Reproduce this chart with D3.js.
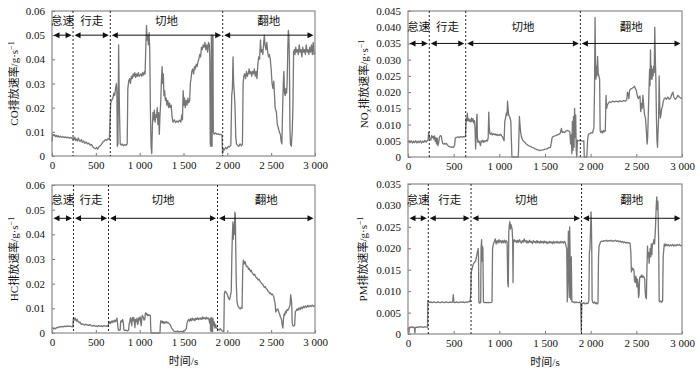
<!DOCTYPE html>
<html><head><meta charset="utf-8">
<script src="https://cdn.jsdelivr.net/npm/d3@7/dist/d3.min.js"></script>
<style>body{margin:0;background:#fff}svg{display:block}</style>
</head><body>
<script>
// ---------- data ----------
const phaseNames = ["怠速", "行走", "切地", "翻地"];
const xTicks = [0, 500, 1000, 1500, 2000, 2500, 3000];
const coYTicks = [0, 0.01, 0.02, 0.03, 0.04, 0.05, 0.06];
const noxYTicks = [0, 0.005, 0.01, 0.015, 0.02, 0.025, 0.03, 0.035, 0.04, 0.045];
const hcYTicks = [0, 0.01, 0.02, 0.03, 0.04, 0.05, 0.06];
const pmYTicks = [0, 0.005, 0.01, 0.015, 0.02, 0.025, 0.03, 0.035];
const coBounds = [240, 665, 1947];
const noxBounds = [233, 632, 1887];
const hcBounds = [245, 645, 1888];
const pmBounds = [222, 690, 1900];

const coData = [[0,0.006],[8,0.009],[20,0.0085],[30,0.0088],[40,0.008],[50,0.0085],[60,0.0079],[70,0.0084],[80,0.0078],[95,0.0082],[110,0.0077],[125,0.008],[140,0.0076],[155,0.0079],[170,0.0075],[185,0.0078],[200,0.0074],[215,0.0076],[230,0.0072],[243,0.0075],[250,0.0068],[260,0.0078],[270,0.0064],[280,0.007],[290,0.0062],[300,0.0075],[310,0.0066],[320,0.006],[335,0.0068],[345,0.0057],[360,0.0062],[375,0.0052],[390,0.0058],[405,0.005],[420,0.0053],[435,0.0045],[450,0.0048],[465,0.0038],[480,0.0033],[495,0.003],[510,0.0035],[520,0.0028],[535,0.0038],[550,0.0042],[565,0.0048],[580,0.0058],[595,0.0062],[610,0.0068],[625,0.0065],[640,0.0072],[655,0.0068],[662,0.015],[670,0.022],[680,0.023],[695,0.024],[705,0.026],[715,0.025],[725,0.028],[735,0.03],[740,0.027],[745,0.004],[752,0.005],[760,0.046],[765,0.03],[770,0.018],[778,0.005],[790,0.0045],[800,0.005],[815,0.0042],[830,0.0048],[845,0.0044],[858,0.005],[865,0.028],[875,0.031],[885,0.032],[895,0.03],[905,0.033],[915,0.032],[925,0.034],[935,0.033],[945,0.0345],[955,0.0325],[965,0.034],[975,0.033],[985,0.0345],[995,0.033],[1005,0.0335],[1015,0.034],[1025,0.033],[1035,0.0345],[1045,0.0335],[1055,0.035],[1062,0.034],[1070,0.045],[1078,0.054],[1085,0.048],[1092,0.05],[1100,0.046],[1108,0.051],[1115,0.044],[1122,0.02],[1130,0.004],[1138,0.001],[1145,0.012],[1152,0.018],[1160,0.015],[1168,0.019],[1176,0.014],[1184,0.017],[1192,0.016],[1200,0.02],[1208,0.013],[1216,0.018],[1224,0.009],[1232,0.017],[1240,0.022],[1248,0.031],[1256,0.037],[1263,0.03],[1270,0.034],[1277,0.025],[1285,0.027],[1293,0.023],[1302,0.024],[1310,0.021],[1320,0.023],[1330,0.02],[1340,0.022],[1350,0.02],[1360,0.021],[1370,0.016],[1380,0.014],[1395,0.015],[1410,0.0138],[1425,0.0145],[1440,0.014],[1455,0.0148],[1470,0.014],[1480,0.017],[1488,0.015],[1496,0.027],[1504,0.021],[1512,0.024],[1520,0.02],[1530,0.023],[1540,0.021],[1550,0.024],[1560,0.022],[1570,0.023],[1578,0.03],[1586,0.032],[1595,0.035],[1605,0.036],[1615,0.034],[1625,0.037],[1635,0.036],[1645,0.038],[1655,0.037],[1665,0.039],[1675,0.04],[1685,0.042],[1695,0.041],[1705,0.045],[1715,0.044],[1725,0.046],[1735,0.045],[1745,0.047],[1755,0.044],[1765,0.046],[1775,0.043],[1785,0.047],[1795,0.046],[1800,0.04],[1805,0.005],[1812,0.004],[1818,0.05],[1822,0.02],[1826,0.004],[1832,0.05],[1836,0.05],[1840,0.01],[1850,0.009],[1865,0.0095],[1880,0.009],[1895,0.0092],[1910,0.0088],[1925,0.009],[1940,0.0085],[1945,0.001],[1955,0.003],[1965,0.0025],[1980,0.0035],[1995,0.003],[2010,0.004],[2025,0.0038],[2040,0.0045],[2050,0.025],[2058,0.028],[2065,0.041],[2072,0.03],[2080,0.026],[2088,0.02],[2096,0.008],[2104,0.005],[2115,0.0045],[2130,0.004],[2145,0.005],[2160,0.0042],[2172,0.0048],[2180,0.03],[2188,0.033],[2198,0.034],[2208,0.032],[2218,0.035],[2228,0.033],[2238,0.034],[2248,0.036],[2258,0.034],[2268,0.035],[2278,0.033],[2288,0.035],[2298,0.034],[2308,0.036],[2318,0.033],[2328,0.035],[2338,0.032],[2348,0.038],[2358,0.041],[2368,0.04],[2378,0.048],[2386,0.043],[2395,0.044],[2405,0.042],[2415,0.047],[2422,0.05],[2430,0.046],[2440,0.044],[2450,0.047],[2460,0.043],[2470,0.041],[2480,0.042],[2490,0.04],[2500,0.036],[2510,0.03],[2520,0.028],[2530,0.031],[2545,0.02],[2560,0.018],[2570,0.013],[2580,0.012],[2592,0.01],[2604,0.009],[2614,0.006],[2622,0.005],[2630,0.018],[2638,0.03],[2645,0.035],[2652,0.026],[2660,0.025],[2668,0.028],[2676,0.026],[2682,0.03],[2690,0.045],[2696,0.052],[2702,0.05],[2708,0.04],[2714,0.012],[2720,0.005],[2730,0.004],[2740,0.01],[2748,0.02],[2756,0.043],[2764,0.044],[2772,0.042],[2780,0.045],[2790,0.043],[2800,0.044],[2810,0.042],[2820,0.046],[2830,0.043],[2840,0.044],[2850,0.041],[2860,0.045],[2870,0.043],[2880,0.044],[2890,0.042],[2900,0.046],[2910,0.043],[2920,0.044],[2930,0.042],[2940,0.045],[2950,0.043],[2960,0.046],[2970,0.042],[2980,0.047],[2990,0.042],[3000,0.043]];

const noxData = [[0,0.0045],[10,0.005],[22,0.0044],[35,0.005],[48,0.0043],[60,0.0049],[72,0.0044],[85,0.005],[98,0.0043],[110,0.0049],[122,0.0044],[135,0.005],[148,0.0043],[160,0.0049],[172,0.0045],[185,0.0051],[198,0.0046],[210,0.005],[220,0.0052],[226,0.0076],[232,0.006],[240,0.0058],[250,0.0052],[258,0.0066],[266,0.006],[274,0.0064],[282,0.0055],[290,0.0065],[298,0.0048],[305,0.006],[312,0.004],[320,0.0058],[328,0.0035],[336,0.0045],[345,0.0062],[355,0.0066],[365,0.0064],[372,0.0052],[380,0.0042],[390,0.004],[400,0.0041],[410,0.004],[420,0.0042],[430,0.0038],[440,0.0034],[455,0.0032],[470,0.003],[485,0.0031],[500,0.003],[510,0.0036],[518,0.0058],[530,0.006],[545,0.0062],[560,0.006],[575,0.0063],[590,0.0061],[605,0.0063],[620,0.0062],[630,0.0064],[636,0.012],[642,0.011],[650,0.0135],[656,0.0112],[664,0.0118],[672,0.011],[680,0.0115],[688,0.0108],[696,0.012],[704,0.011],[712,0.0118],[720,0.0105],[728,0.0112],[734,0.009],[740,0.0025],[746,0.006],[752,0.012],[756,0.0132],[760,0.006],[766,0.0045],[776,0.005],[786,0.0042],[794,0.0035],[800,0.005],[810,0.0046],[820,0.0052],[830,0.0045],[840,0.005],[850,0.0048],[860,0.0052],[870,0.0049],[878,0.006],[884,0.0138],[890,0.009],[896,0.0072],[905,0.007],[915,0.0074],[925,0.0068],[935,0.0072],[945,0.0069],[955,0.0071],[965,0.0067],[975,0.007],[985,0.0066],[995,0.0069],[1005,0.0067],[1015,0.007],[1025,0.0065],[1035,0.0062],[1045,0.0055],[1052,0.005],[1060,0.011],[1068,0.012],[1076,0.0135],[1084,0.0128],[1090,0.0172],[1096,0.015],[1102,0.013],[1110,0.0125],[1118,0.012],[1126,0.011],[1132,0.005],[1138,0],[1150,0],[1170,0],[1190,0],[1208,0],[1214,0.006],[1220,0.0125],[1226,0.01],[1234,0.0075],[1244,0.006],[1256,0.0052],[1268,0.0048],[1280,0.0045],[1295,0.004],[1310,0.0037],[1325,0.0034],[1340,0.0033],[1355,0.003],[1370,0.0029],[1385,0.0026],[1400,0.0024],[1420,0.0022],[1440,0.002],[1460,0.0021],[1480,0.0022],[1500,0.0024],[1520,0.0025],[1540,0.0028],[1560,0.003],[1570,0.0045],[1578,0.006],[1590,0.0063],[1605,0.0065],[1620,0.0066],[1635,0.0068],[1650,0.007],[1665,0.0072],[1680,0.0088],[1688,0.0076],[1700,0.0078],[1715,0.0075],[1730,0.008],[1745,0.0082],[1760,0.008],[1772,0.0078],[1780,0.004],[1788,0.0068],[1794,0.001],[1800,0.011],[1806,0.002],[1812,0.0125],[1818,0.003],[1824,0.015],[1830,0.006],[1836,0.013],[1842,0.002],[1848,0],[1855,0.0052],[1870,0.005],[1885,0.0051],[1900,0.005],[1915,0.0049],[1925,0.005],[1930,0],[1945,0],[1958,0],[1966,0.005],[1975,0.007],[1990,0.0072],[2005,0.0075],[2020,0.0074],[2035,0.009],[2042,0.02],[2048,0.043],[2053,0.03],[2058,0.024],[2064,0.028],[2070,0.025],[2076,0.031],[2082,0.026],[2090,0.025],[2098,0.024],[2104,0.008],[2112,0.0075],[2122,0.008],[2132,0.0074],[2142,0.0082],[2152,0.0078],[2160,0.008],[2168,0.019],[2175,0.015],[2182,0.016],[2192,0.0165],[2205,0.017],[2220,0.0168],[2240,0.0172],[2260,0.017],[2280,0.0172],[2300,0.017],[2320,0.0173],[2340,0.0171],[2360,0.0174],[2380,0.0172],[2395,0.0176],[2402,0.02],[2410,0.0195],[2418,0.018],[2426,0.0205],[2440,0.021],[2455,0.0212],[2470,0.0215],[2480,0.0218],[2490,0.021],[2500,0.0205],[2510,0.019],[2520,0.018],[2530,0.0185],[2540,0.0188],[2548,0.014],[2556,0.0165],[2564,0.015],[2572,0.019],[2580,0.016],[2590,0.013],[2600,0.012],[2610,0.008],[2618,0.004],[2624,0.006],[2630,0.012],[2638,0.02],[2645,0.027],[2650,0.022],[2655,0.033],[2660,0.024],[2666,0.028],[2672,0.024],[2678,0.027],[2684,0.025],[2690,0.028],[2696,0.026],[2702,0.04],[2708,0.03],[2714,0.024],[2720,0.012],[2726,0.005],[2732,0.003],[2738,0.008],[2744,0.012],[2750,0.025],[2756,0.016],[2762,0.012],[2770,0.013],[2778,0.015],[2786,0.0155],[2794,0.017],[2805,0.018],[2818,0.0182],[2830,0.0178],[2845,0.0185],[2860,0.0178],[2875,0.0182],[2890,0.0195],[2900,0.02],[2910,0.0185],[2925,0.0178],[2940,0.0182],[2955,0.019],[2970,0.0185],[2985,0.0182],[3000,0.018]];

const hcData = [[0,0.0018],[10,0.0022],[20,0.0016],[30,0.002],[40,0.0017],[55,0.0023],[70,0.0022],[85,0.0026],[100,0.0024],[115,0.0027],[130,0.0025],[145,0.0028],[160,0.0026],[175,0.0029],[190,0.0027],[205,0.0028],[220,0.0026],[238,0.0025],[243,0.0058],[250,0.0062],[258,0.0052],[268,0.006],[278,0.0048],[288,0.0055],[298,0.0046],[308,0.0042],[318,0.0045],[328,0.0038],[340,0.0035],[355,0.0037],[370,0.0032],[385,0.0035],[400,0.0033],[415,0.0031],[430,0.0034],[445,0.003],[460,0.0028],[475,0.0031],[490,0.0027],[505,0.0029],[520,0.0026],[535,0.003],[550,0.0027],[565,0.0029],[580,0.0026],[595,0.003],[610,0.0028],[625,0.0029],[640,0.0027],[646,0.004],[655,0.0045],[665,0.0038],[675,0.0048],[685,0.0042],[695,0.005],[705,0.0044],[715,0.0052],[725,0.0046],[735,0.0055],[741,0.006],[748,0.004],[754,0.0018],[762,0.001],[770,0.0012],[778,0.0012],[784,0.0048],[790,0.005],[798,0.0045],[806,0.0055],[814,0.004],[820,0.0012],[830,0.001],[845,0.0012],[860,0.0008],[874,0.0012],[880,0.0038],[886,0.0042],[892,0.0058],[898,0.0062],[904,0.0045],[910,0.003],[916,0.0058],[922,0.0063],[928,0.005],[934,0.0062],[940,0.0042],[946,0.0022],[952,0.0055],[958,0.0052],[964,0.0045],[970,0.006],[976,0.0035],[982,0.0038],[988,0.006],[994,0.0062],[1000,0.0052],[1006,0.0065],[1012,0.0042],[1018,0.003],[1024,0.0058],[1030,0.0072],[1036,0.0068],[1042,0.0062],[1050,0.0052],[1058,0.0055],[1064,0.0078],[1070,0.0082],[1076,0.0075],[1082,0.0078],[1090,0.007],[1098,0.0074],[1106,0.0071],[1114,0.0073],[1122,0.007],[1126,0.002],[1130,0],[1160,0],[1190,0],[1220,0],[1232,0],[1236,0.0035],[1242,0.005],[1250,0.0042],[1258,0.0048],[1266,0.004],[1274,0.0046],[1282,0.0038],[1290,0.0045],[1298,0.0042],[1306,0.0046],[1314,0.004],[1322,0.0043],[1332,0.004],[1345,0.0035],[1355,0.0028],[1365,0.002],[1375,0.0015],[1390,0.0008],[1410,0.0005],[1430,0.0008],[1450,0.0004],[1470,0.0007],[1490,0.0005],[1505,0.001],[1520,0.0012],[1532,0.0018],[1540,0.004],[1550,0.005],[1560,0.0055],[1570,0.0048],[1580,0.0058],[1590,0.005],[1600,0.006],[1610,0.0052],[1620,0.0058],[1630,0.005],[1640,0.006],[1650,0.0055],[1660,0.0062],[1670,0.0054],[1680,0.006],[1690,0.0056],[1700,0.0062],[1710,0.0055],[1720,0.0065],[1730,0.0058],[1740,0.0062],[1750,0.0056],[1760,0.0064],[1770,0.0057],[1780,0.0062],[1790,0.0055],[1798,0.004],[1804,0.006],[1808,0.001],[1812,0.006],[1816,0.0005],[1820,0.0062],[1824,0.001],[1828,0.0058],[1832,0.0005],[1836,0.006],[1842,0.003],[1850,0.0045],[1858,0.002],[1866,0.0035],[1874,0.0022],[1884,0.0018],[1894,0.0015],[1905,0.0012],[1920,0.0018],[1935,0.001],[1950,0.0008],[1960,0.0005],[1966,0.016],[1975,0.017],[1985,0.0165],[1995,0.016],[2005,0.015],[2015,0.014],[2025,0.0135],[2035,0.015],[2045,0.017],[2052,0.032],[2058,0.04],[2064,0.045],[2068,0.038],[2074,0.044],[2080,0.04],[2086,0.049],[2091,0.048],[2096,0.035],[2102,0.02],[2110,0.013],[2120,0.011],[2130,0.0105],[2140,0.01],[2150,0.0098],[2160,0.0105],[2168,0.01],[2175,0.025],[2182,0.0295],[2192,0.028],[2202,0.029],[2212,0.0275],[2222,0.0268],[2232,0.027],[2242,0.0258],[2252,0.0262],[2262,0.025],[2272,0.0255],[2282,0.0245],[2292,0.024],[2302,0.0235],[2312,0.0238],[2322,0.0228],[2332,0.0225],[2342,0.022],[2352,0.0215],[2362,0.0218],[2372,0.021],[2382,0.0205],[2392,0.02],[2402,0.0198],[2412,0.0192],[2422,0.0185],[2432,0.0188],[2442,0.018],[2452,0.0178],[2462,0.017],[2472,0.0168],[2482,0.016],[2492,0.0162],[2502,0.0155],[2512,0.0158],[2522,0.0152],[2530,0.0148],[2538,0.013],[2546,0.0118],[2552,0.0085],[2558,0.009],[2566,0.0095],[2574,0.0098],[2582,0.009],[2590,0.0082],[2598,0.0075],[2606,0.0065],[2614,0.006],[2620,0.005],[2628,0.0028],[2634,0.002],[2640,0.0055],[2648,0.0078],[2656,0.0072],[2664,0.0088],[2672,0.0082],[2680,0.0095],[2690,0.0092],[2700,0.0098],[2708,0.0105],[2716,0.0115],[2722,0.0155],[2728,0.014],[2734,0.012],[2740,0.004],[2748,0.003],[2758,0.0028],[2768,0.0032],[2776,0.0088],[2786,0.009],[2796,0.0098],[2806,0.0092],[2818,0.0102],[2830,0.0095],[2842,0.0105],[2855,0.0098],[2868,0.0108],[2880,0.0102],[2892,0.011],[2905,0.0104],[2918,0.0112],[2930,0.0106],[2943,0.0112],[2956,0.0107],[2969,0.0113],[2982,0.0108],[3000,0.0112]];

const pmData = [[0,0.0008],[6,0.0015],[10,0.0003],[14,0.0014],[20,0.0016],[30,0.0015],[40,0.0017],[50,0.0015],[60,0.0016],[70,0.0015],[76,0.0002],[80,0.0015],[95,0.0016],[110,0.0015],[120,0.0017],[135,0.0016],[150,0.0017],[165,0.0015],[180,0.0017],[195,0.0016],[205,0.0016],[214,0.0016],[218,0.0078],[225,0.0076],[235,0.0074],[250,0.0075],[265,0.0073],[280,0.0075],[295,0.0074],[310,0.0073],[325,0.0075],[340,0.0074],[355,0.0073],[370,0.0075],[385,0.0074],[400,0.0073],[415,0.0075],[430,0.0074],[445,0.0073],[460,0.0075],[475,0.0074],[490,0.0075],[496,0.0092],[502,0.0074],[515,0.0073],[530,0.0075],[545,0.0074],[560,0.0073],[575,0.0075],[590,0.0074],[605,0.0075],[620,0.0073],[635,0.0075],[650,0.0074],[665,0.0076],[680,0.0075],[688,0.0095],[692,0.0145],[700,0.015],[710,0.016],[720,0.0165],[730,0.0168],[740,0.017],[750,0.018],[758,0.019],[764,0.0195],[768,0.02],[772,0.018],[776,0.0075],[782,0.0072],[790,0.0074],[796,0.0073],[800,0.02],[806,0.022],[810,0.017],[814,0.0205],[820,0.02],[826,0.0075],[835,0.0073],[850,0.0074],[865,0.0073],[880,0.0074],[895,0.0073],[910,0.0074],[920,0.0075],[926,0.02],[935,0.021],[945,0.0215],[955,0.0222],[965,0.021],[975,0.0218],[985,0.0212],[995,0.022],[1005,0.0214],[1015,0.0218],[1025,0.0212],[1035,0.0218],[1045,0.0213],[1055,0.0219],[1065,0.0212],[1075,0.0218],[1085,0.0215],[1092,0.012],[1098,0.011],[1104,0.024],[1110,0.0255],[1116,0.0262],[1122,0.0245],[1128,0.0255],[1134,0.025],[1140,0.0245],[1146,0.022],[1150,0.012],[1154,0.0215],[1162,0.022],[1172,0.0215],[1182,0.0218],[1192,0.0213],[1202,0.0219],[1212,0.0214],[1222,0.022],[1232,0.0215],[1242,0.0212],[1252,0.0218],[1262,0.0214],[1272,0.0222],[1282,0.0215],[1292,0.0218],[1302,0.0212],[1312,0.0217],[1322,0.0213],[1332,0.0219],[1342,0.0214],[1352,0.0216],[1362,0.0211],[1372,0.0218],[1382,0.0214],[1392,0.0216],[1402,0.0212],[1412,0.0218],[1422,0.0213],[1432,0.0216],[1442,0.0212],[1452,0.0217],[1462,0.0213],[1472,0.0216],[1482,0.0212],[1492,0.0217],[1502,0.0213],[1512,0.0216],[1522,0.0211],[1532,0.0215],[1542,0.0212],[1552,0.0216],[1562,0.0213],[1572,0.0215],[1582,0.0211],[1592,0.0216],[1602,0.0212],[1612,0.0215],[1622,0.0213],[1632,0.0216],[1642,0.0212],[1652,0.0215],[1662,0.0212],[1672,0.0216],[1682,0.0213],[1692,0.0215],[1702,0.0212],[1712,0.0216],[1722,0.0214],[1730,0.0205],[1738,0.02],[1744,0.0075],[1750,0.015],[1756,0.024],[1762,0.012],[1766,0.0085],[1770,0.025],[1774,0.02],[1778,0.012],[1782,0.008],[1788,0.018],[1794,0.0075],[1800,0.0076],[1810,0.0074],[1820,0.0075],[1830,0.0073],[1840,0.0075],[1850,0.0073],[1860,0.0074],[1870,0.0073],[1880,0.0075],[1890,0.0072],[1894,0.004],[1897,0.0005],[1900,0.004],[1904,0.0072],[1914,0.0071],[1925,0.0073],[1940,0.007],[1955,0.0072],[1970,0.0071],[1980,0.0078],[1986,0.019],[1992,0.02],[1998,0.024],[2004,0.0285],[2008,0.026],[2012,0.02],[2016,0.008],[2022,0.0074],[2032,0.0072],[2042,0.0075],[2052,0.0071],[2062,0.0073],[2072,0.007],[2080,0.0072],[2086,0.018],[2092,0.0205],[2100,0.021],[2110,0.0215],[2122,0.0217],[2135,0.0216],[2148,0.0218],[2160,0.0217],[2172,0.0219],[2185,0.0216],[2198,0.0218],[2210,0.0217],[2222,0.0219],[2235,0.0216],[2248,0.0218],[2260,0.0217],[2272,0.0219],[2285,0.0216],[2298,0.0218],[2310,0.0215],[2322,0.0217],[2335,0.0214],[2348,0.0216],[2360,0.0213],[2372,0.0215],[2385,0.0212],[2398,0.0214],[2410,0.0212],[2422,0.0213],[2432,0.0211],[2440,0.019],[2446,0.0145],[2452,0.0155],[2460,0.015],[2468,0.0152],[2474,0.0148],[2480,0.0125],[2488,0.012],[2494,0.0135],[2500,0.013],[2506,0.011],[2512,0.0128],[2518,0.0118],[2524,0.0085],[2530,0.0092],[2536,0.013],[2544,0.0135],[2552,0.0132],[2560,0.0138],[2568,0.0132],[2576,0.0135],[2584,0.0133],[2592,0.0128],[2598,0.0095],[2604,0.0085],[2610,0.0082],[2616,0.015],[2622,0.0205],[2628,0.018],[2634,0.019],[2640,0.0165],[2646,0.0185],[2652,0.02],[2658,0.018],[2664,0.021],[2670,0.0185],[2676,0.021],[2684,0.021],[2692,0.022],[2700,0.021],[2710,0.025],[2718,0.03],[2724,0.032],[2730,0.029],[2736,0.031],[2744,0.022],[2750,0.0078],[2758,0.0075],[2768,0.0077],[2778,0.0074],[2788,0.0078],[2794,0.018],[2800,0.0195],[2806,0.021],[2815,0.0205],[2825,0.021],[2835,0.0206],[2848,0.0209],[2860,0.0205],[2872,0.0208],[2885,0.0206],[2898,0.0209],[2910,0.0205],[2922,0.0208],[2935,0.0206],[2948,0.0209],[2960,0.0207],[2972,0.0209],[2985,0.0206],[3000,0.0206]];

// ---------- layout ----------
const W = 700, H = 370;
const NUM_FONT = "'Liberation Serif', 'Times New Roman', serif";
const CJK_FONT = "'Noto Sans CJK SC', sans-serif";
const LINE_COLOR = "#767676";

const panels = [
  { data: coData, bounds: coBounds, yTicks: coYTicks, dec: 2, box: [52, 315, 11, 156], arrowY: 0.05, labelY: 0.056, species: "CO", sub: null, yLabelX: 14, showXLabel: false },
  { data: noxData, bounds: noxBounds, yTicks: noxYTicks, dec: 3, box: [408, 682, 11, 157], arrowY: 0.035, labelY: 0.0402, species: "NO", sub: "x", yLabelX: 364, showXLabel: false },
  { data: hcData, bounds: hcBounds, yTicks: hcYTicks, dec: 2, box: [52, 315, 185, 333], arrowY: 0.0465, labelY: 0.054, species: "HC", sub: null, yLabelX: 14, showXLabel: true },
  { data: pmData, bounds: pmBounds, yTicks: pmYTicks, dec: 3, box: [408, 682, 184, 334], arrowY: 0.027, labelY: 0.0313, species: "PM", sub: null, yLabelX: 363, showXLabel: true }
];

const svg = d3.select("body").append("svg").attr("width", W).attr("height", H);
svg.append("rect").attr("width", W).attr("height", H).attr("fill", "#fff");

const fmtX = d => d >= 1000 ? Math.floor(d / 1000) + " " + String(d % 1000).padStart(3, "0") : String(d);

panels.forEach(p => {
  const [l, r, t, b] = p.box;
  const x = d3.scaleLinear().domain([0, 3000]).range([l, r]);
  const yMax = p.yTicks[p.yTicks.length - 1];
  const y = d3.scaleLinear().domain([0, yMax]).range([b, t]);
  const g = svg.append("g");

  // y axis (inner ticks)
  const yAxis = d3.axisLeft(y).tickValues(p.yTicks).tickSize(-3).tickPadding(7)
    .tickFormat(d => d === 0 ? "0" : d.toFixed(p.dec));
  const ya = g.append("g").attr("transform", `translate(${l},0)`).call(yAxis);
  ya.select(".domain").remove();
  ya.selectAll("line").attr("stroke", "#777");
  ya.selectAll("text").attr("font-family", NUM_FONT).attr("font-size", 11).attr("fill", "#111");

  // x axis
  const xAxis = d3.axisBottom(x).tickValues(xTicks).tickSize(-3).tickPadding(5).tickFormat(fmtX);
  const xa = g.append("g").attr("transform", `translate(0,${b})`).call(xAxis);
  xa.select(".domain").remove();
  xa.selectAll("line").attr("stroke", "#777");
  xa.selectAll("text").attr("font-family", NUM_FONT).attr("font-size", 11).attr("fill", "#111");

  // data line
  g.append("path").datum(p.data)
    .attr("d", d3.line().x(d => x(d[0])).y(d => y(d[1])))
    .attr("fill", "none").attr("stroke", LINE_COLOR).attr("stroke-width", 1.3)
    .attr("stroke-linejoin", "round");

  // frame
  g.append("rect").attr("x", l).attr("y", t).attr("width", r - l).attr("height", b - t)
    .attr("fill", "none").attr("stroke", "#8a8a8a").attr("stroke-width", 1.2);

  // phase boundaries
  p.bounds.forEach(bd => {
    g.append("line").attr("x1", x(bd)).attr("x2", x(bd)).attr("y1", t).attr("y2", b)
      .attr("stroke", "#222").attr("stroke-width", 1).attr("stroke-dasharray", "2,2");
  });

  // phase arrows and labels
  const edges = [0, ...p.bounds, 3000];
  const ay = y(p.arrowY);
  for (let i = 0; i < 4; i++) {
    const x1 = x(edges[i]) + 1.5, x2 = x(edges[i + 1]) - 1.5;
    g.append("line").attr("x1", x1 + 4).attr("x2", x2 - 4).attr("y1", ay).attr("y2", ay)
      .attr("stroke", "#111").attr("stroke-width", 1);
    g.append("path").attr("d", `M${x1},${ay}L${x1 + 6},${ay - 3}L${x1 + 6},${ay + 3}Z`).attr("fill", "#111");
    g.append("path").attr("d", `M${x2},${ay}L${x2 - 6},${ay - 3}L${x2 - 6},${ay + 3}Z`).attr("fill", "#111");
    g.append("text").attr("x", (x(edges[i]) + x(edges[i + 1])) / 2).attr("y", y(p.labelY))
      .attr("dy", "0.35em").attr("text-anchor", "middle")
      .attr("font-family", CJK_FONT).attr("font-size", 11.5).attr("fill", "#111")
      .text(phaseNames[i]);
  }

  // y label
  const yl = g.append("text")
    .attr("transform", `translate(${p.yLabelX},${(t + b) / 2}) rotate(-90)`)
    .attr("text-anchor", "middle").attr("dy", "0.35em")
    .attr("font-size", 11).attr("fill", "#111");
  yl.append("tspan").attr("font-family", NUM_FONT).text(p.species);
  if (p.sub) yl.append("tspan").attr("font-family", NUM_FONT).attr("font-style", "italic")
    .attr("font-size", 8).attr("dy", "3").text(p.sub);
  yl.append("tspan").attr("font-family", CJK_FONT).attr("dy", p.sub ? "-3" : null).text("排放速率");
  yl.append("tspan").attr("font-family", NUM_FONT).text("/g·s");
  yl.append("tspan").attr("font-family", NUM_FONT).attr("font-size", 8).attr("dy", "-4").text("−1");

  if (p.showXLabel) {
    const xl = g.append("text").attr("x", (l + r) / 2).attr("y", b + 32)
      .attr("text-anchor", "middle").attr("font-size", 11).attr("fill", "#111");
    xl.append("tspan").attr("font-family", CJK_FONT).text("时间");
    xl.append("tspan").attr("font-family", NUM_FONT).text("/s");
  }
});
</script>
</body></html>
